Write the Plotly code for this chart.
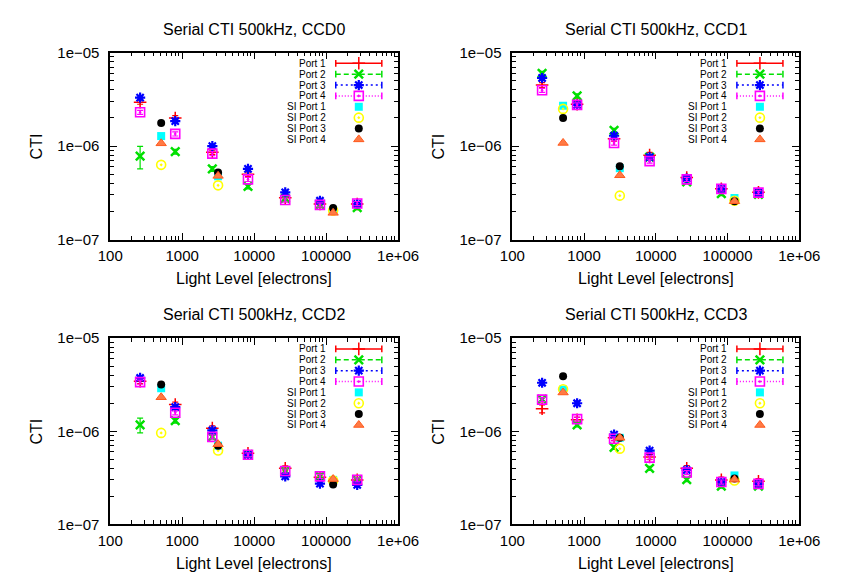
import plotly.graph_objects as go

# ---------------- data ----------------
PORT_X = [260, 800, 2620, 8200, 27000, 82000, 270000]
SI_X = [510, 3150, 125000]

SERIES_NAMES = ["Port 1", "Port 2", "Port 3", "Port 4",
                "SI Port 1", "SI Port 2", "SI Port 3", "SI Port 4"]
CCD_NAMES = ["CCD0", "CCD1", "CCD2", "CCD3"]

X_TICKS = [100, 1000, 10000, 100000, 1000000]
X_TICKTEXT = ["100", "1000", "10000", "100000", "1e+06"]
Y_TICKS = [1e-7, 1e-6, 1e-5]
Y_TICKTEXT = ["1e\u221207", "1e\u221206", "1e\u221205"]

# CCD0
CCD0_P1 = [2.95e-6, 2.0e-6, 8.6e-7, 5.0e-7, 2.8e-7, 2.4e-7, 2.4e-7]
CCD0_P2 = [7.8e-7, 8.7e-7, 5.7e-7, 3.7e-7, 2.75e-7, 2.35e-7, 2.2e-7]
CCD0_P3 = [3.3e-6, 1.85e-6, 1.0e-6, 5.7e-7, 3.2e-7, 2.6e-7, 2.4e-7]
CCD0_P4 = [2.3e-6, 1.35e-6, 8.3e-7, 4.4e-7, 2.65e-7, 2.35e-7, 2.43e-7]
CCD0_SI1 = [1.28e-6, 4.75e-7, 2.05e-7]
CCD0_SI2 = [6.3e-7, 3.8e-7, 2.05e-7]
CCD0_SI3 = [1.77e-6, 5.2e-7, 2.17e-7]
CCD0_SI4 = [1.07e-6, 4.8e-7, 1.93e-7]

# CCD1
CCD1_P1 = [4.5e-6, 2.8e-6, 1.2e-6, 8.0e-7, 4.6e-7, 3.5e-7, 3.2e-7]
CCD1_P2 = [6.0e-6, 3.45e-6, 1.47e-6, 7.6e-7, 4.15e-7, 3.1e-7, 3.05e-7]
CCD1_P3 = [5.35e-6, 2.76e-6, 1.29e-6, 7.6e-7, 4.5e-7, 3.48e-7, 3.15e-7]
CCD1_P4 = [3.95e-6, 2.76e-6, 1.08e-6, 6.9e-7, 4.4e-7, 3.48e-7, 3.18e-7]
CCD1_SI1 = [2.7e-6, 5.8e-7, 2.78e-7]
CCD1_SI2 = [2.5e-6, 2.95e-7, 2.6e-7]
CCD1_SI3 = [2.0e-6, 6.1e-7, 2.57e-7]
CCD1_SI4 = [1.08e-6, 4.87e-7, 2.57e-7]

# CCD2
CCD2_P1 = [3.45e-6, 1.94e-6, 1.08e-6, 5.8e-7, 4.0e-7, 3.2e-7, 3.0e-7]
CCD2_P2 = [1.17e-6, 1.3e-6, 8.7e-7, 5.6e-7, 3.74e-7, 3.3e-7, 3.0e-7]
CCD2_P3 = [3.74e-6, 1.82e-6, 1.02e-6, 5.58e-7, 3.27e-7, 2.74e-7, 2.65e-7]
CCD2_P4 = [3.37e-6, 1.58e-6, 8.7e-7, 5.58e-7, 3.74e-7, 3.27e-7, 3.0e-7]
CCD2_SI1 = [2.9e-6, 7.0e-7, 3.0e-7]
CCD2_SI2 = [9.6e-7, 6.2e-7, 2.95e-7]
CCD2_SI3 = [3.19e-6, 7.0e-7, 2.67e-7]
CCD2_SI4 = [2.32e-6, 7.26e-7, 3.06e-7]

# CCD3
CCD3_P1 = [1.75e-6, 1.33e-6, 8.5e-7, 5.3e-7, 4.0e-7, 3.0e-7, 2.9e-7]
CCD3_P2 = [2.2e-6, 1.17e-6, 6.7e-7, 4.0e-7, 3.02e-7, 2.57e-7, 2.57e-7]
CCD3_P3 = [3.32e-6, 2.0e-6, 9.2e-7, 6.2e-7, 3.83e-7, 2.85e-7, 2.72e-7]
CCD3_P4 = [2.19e-6, 1.35e-6, 8.3e-7, 5.2e-7, 3.6e-7, 2.85e-7, 2.72e-7]
CCD3_SI1 = [2.8e-6, 8.5e-7, 3.35e-7]
CCD3_SI2 = [2.83e-6, 6.5e-7, 2.95e-7]
CCD3_SI3 = [3.9e-6, 8.5e-7, 3.1e-7]
CCD3_SI4 = [2.61e-6, 8.5e-7, 3.02e-7]

# relative error bars of the port series
CCD0_ERR = [[0.05, 0.06, 0.05, 0.05, 0.05, 0.05, 0.05],
            [0.27, 0.06, 0.06, 0.06, 0.05, 0.05, 0.05],
            [0.05, 0.05, 0.05, 0.05, 0.05, 0.05, 0.05],
            [0.05, 0.05, 0.05, 0.05, 0.05, 0.05, 0.05]]
CCD1_ERR = [[0.06, 0.06, 0.06, 0.07, 0.06, 0.06, 0.06],
            [0.05, 0.05, 0.05, 0.05, 0.05, 0.05, 0.05],
            [0.05, 0.05, 0.05, 0.05, 0.05, 0.05, 0.05],
            [0.05, 0.05, 0.05, 0.05, 0.05, 0.05, 0.05]]
CCD2_ERR = [[0.06, 0.06, 0.06, 0.07, 0.06, 0.06, 0.06],
            [0.18, 0.06, 0.05, 0.05, 0.05, 0.05, 0.05],
            [0.05, 0.05, 0.05, 0.05, 0.05, 0.05, 0.05],
            [0.05, 0.05, 0.05, 0.05, 0.05, 0.05, 0.05]]
CCD3_ERR = [[0.10, 0.06, 0.06, 0.06, 0.07, 0.07, 0.07],
            [0.05, 0.05, 0.05, 0.05, 0.05, 0.05, 0.05],
            [0.05, 0.05, 0.05, 0.05, 0.05, 0.05, 0.05],
            [0.05, 0.05, 0.05, 0.05, 0.05, 0.05, 0.05]]

PANEL_PORTS = [[CCD0_P1, CCD0_P2, CCD0_P3, CCD0_P4],
               [CCD1_P1, CCD1_P2, CCD1_P3, CCD1_P4],
               [CCD2_P1, CCD2_P2, CCD2_P3, CCD2_P4],
               [CCD3_P1, CCD3_P2, CCD3_P3, CCD3_P4]]
PANEL_SI = [[CCD0_SI1, CCD0_SI2, CCD0_SI3, CCD0_SI4],
            [CCD1_SI1, CCD1_SI2, CCD1_SI3, CCD1_SI4],
            [CCD2_SI1, CCD2_SI2, CCD2_SI3, CCD2_SI4],
            [CCD3_SI1, CCD3_SI2, CCD3_SI3, CCD3_SI4]]
PANEL_ERR = [CCD0_ERR, CCD1_ERR, CCD2_ERR, CCD3_ERR]

# ---------------- styles ----------------
W, H = 842, 576
FONT = "Liberation Sans, Arial, Helvetica, sans-serif"
GREEN = "#00e000"
ORANGE = "#ff5a1e"
STYLES = [
    dict(color="#ff0000", symbol="cross-thin", size=9, lw=1.5, dash="solid"),
    dict(color=GREEN, symbol="x-thin", size=8.5, lw=2.5, dash="5px,3px"),
    dict(color="#0000ff", symbol="asterisk", size=8.5, lw=2.2, dash="2px,3px"),
    dict(color="#ff00ff", symbol="square-open-dot", size=9, lw=1.6, dash="1px,2px"),
    dict(color="#00ffff", symbol="square", size=8, lw=0, dash=None),
    dict(color="#ffff00", symbol="circle-open-dot", size=9, lw=1.6, dash=None),
    dict(color="#000000", symbol="circle", size=8, lw=0, dash=None),
    dict(color=ORANGE, symbol="triangle-up", size=9, lw=1, dash=None),
]

# panel plot-area boxes in pixels: left, right, top, bottom
GEOM = [(93, 393, 36.7, 229.3), (512, 811, 36.7, 229.3),
        (93, 393, 331, 522.7), (512, 811, 331, 522.7)]
KEY_FONT = 10
KEY_STEP = 11.2
KEY_TOP = 11

MINOR_X = [m * 10 ** e for e in range(2, 6) for m in range(2, 10)]
MINOR_Y = [m * 10.0 ** e for e in range(-7, -5) for m in range(2, 10)]


def marker_of(st):
    if st["symbol"] in ("square", "circle"):
        return dict(symbol=st["symbol"], size=st["size"], color=st["color"])
    if st["symbol"] == "triangle-up":
        return dict(symbol="triangle-up", size=st["size"], color="#ff7a45",
                    line=dict(color=ORANGE, width=st["lw"]))
    return dict(symbol=st["symbol"], size=st["size"], color=st["color"],
                line=dict(color=st["color"], width=st["lw"]))


fig = go.Figure()
annotations = []

for k, (l, r, t, b) in enumerate(GEOM):
    n = k + 1
    xref = "x" if n == 1 else f"x{n}"
    yref = "y" if n == 1 else f"y{n}"
    xkey = "xaxis" if n == 1 else f"xaxis{n}"
    ykey = "yaxis" if n == 1 else f"yaxis{n}"
    common = dict(showline=True, linecolor="black", linewidth=1.6,
                  mirror="allticks", ticks="inside", ticklen=7, tickwidth=1,
                  tickcolor="black", showgrid=False, zeroline=False,
                  type="log", tickmode="array",
                  tickfont=dict(family=FONT, size=15, color="black"))
    fig.update_layout({
        xkey: dict(common, domain=[l / W, r / W], range=[2, 6], anchor=yref,
                   tickvals=X_TICKS, ticktext=X_TICKTEXT, ticklabelstandoff=2,
                   minor=dict(ticks="inside", ticklen=4, tickwidth=1,
                              tickcolor="black", tickvals=MINOR_X)),
        ykey: dict(common, domain=[1 - b / H, 1 - t / H], range=[-7, -5], anchor=xref,
                   tickvals=Y_TICKS, ticktext=Y_TICKTEXT, ticklabelstandoff=6,
                   minor=dict(ticks="inside", ticklen=4, tickwidth=1,
                              tickcolor="black", tickvals=MINOR_Y)),
    })

    for i in range(4):
        st = STYLES[i]
        vals = PANEL_PORTS[k][i]
        errs = [v * e for v, e in zip(vals, PANEL_ERR[k][i])]
        fig.add_trace(go.Scatter(
            x=PORT_X, y=vals, mode="markers", name=SERIES_NAMES[i],
            marker=marker_of(st),
            error_y=dict(type="data", array=errs, color=st["color"],
                         thickness=1.2, width=3),
            xaxis=xref, yaxis=yref, showlegend=False, cliponaxis=False))
    for j in range(4):
        st = STYLES[4 + j]
        fig.add_trace(go.Scatter(
            x=SI_X, y=PANEL_SI[k][j], mode="markers", name=SERIES_NAMES[4 + j],
            marker=marker_of(st),
            xaxis=xref, yaxis=yref, showlegend=False, cliponaxis=False))

    cx = (l + r) / 2
    annotations.append(dict(text=f"Serial CTI 500kHz, {CCD_NAMES[k]}",
                            x=cx / W, y=1 - (t - 24) / H, xref="paper", yref="paper",
                            showarrow=False, xanchor="center", yanchor="middle",
                            font=dict(family=FONT, size=16, color="black")))
    annotations.append(dict(text="Light Level [electrons]",
                            x=cx / W, y=1 - (b + 40) / H, xref="paper", yref="paper",
                            showarrow=False, xanchor="center", yanchor="middle",
                            font=dict(family=FONT, size=16, color="black")))
    annotations.append(dict(text="CTI", textangle=-90,
                            x=(l - 77) / W, y=1 - ((t + b) / 2) / H,
                            xref="paper", yref="paper",
                            showarrow=False, xanchor="center", yanchor="middle",
                            font=dict(family=FONT, size=16, color="black")))

    # key in the upper right of each panel
    for i, name in enumerate(SERIES_NAMES):
        st = STYLES[i]
        yy = t + KEY_TOP + i * KEY_STEP
        annotations.append(dict(text=name, x=(r - 74) / W, y=1 - yy / H,
                                xref="paper", yref="paper", showarrow=False,
                                xanchor="right", yanchor="middle", borderpad=0,
                                font=dict(family=FONT, size=KEY_FONT, color="black")))
        x0, x1, xc = r - 65, r - 17, r - 41
        if i < 4:
            fig.add_trace(go.Scatter(
                x=[x0, x1], y=[yy, yy], mode="lines",
                line=dict(color=st["color"], width=1.5, dash=st["dash"]),
                xaxis="x5", yaxis="y5", showlegend=False, hoverinfo="skip"))
            for xe in (x0, x1):
                fig.add_trace(go.Scatter(
                    x=[xe, xe], y=[yy - 3.5, yy + 3.5], mode="lines",
                    line=dict(color=st["color"], width=1.5),
                    xaxis="x5", yaxis="y5", showlegend=False, hoverinfo="skip"))
        fig.add_trace(go.Scatter(
            x=[xc], y=[yy], mode="markers", marker=marker_of(st),
            xaxis="x5", yaxis="y5", showlegend=False, hoverinfo="skip",
            cliponaxis=False))

fig.update_layout(
    xaxis5=dict(domain=[0, 1], range=[0, W], visible=False, anchor="y5",
                type="linear", fixedrange=True),
    yaxis5=dict(domain=[0, 1], range=[H, 0], visible=False, anchor="x5",
                type="linear", fixedrange=True),
)

fig.update_layout(
    width=W, height=H,
    margin=dict(l=0, r=0, t=0, b=0),
    paper_bgcolor="white", plot_bgcolor="rgba(0,0,0,0)",
    showlegend=False,
    font=dict(family=FONT, color="black"),
    annotations=annotations,
)

fig.write_html("out.html")
